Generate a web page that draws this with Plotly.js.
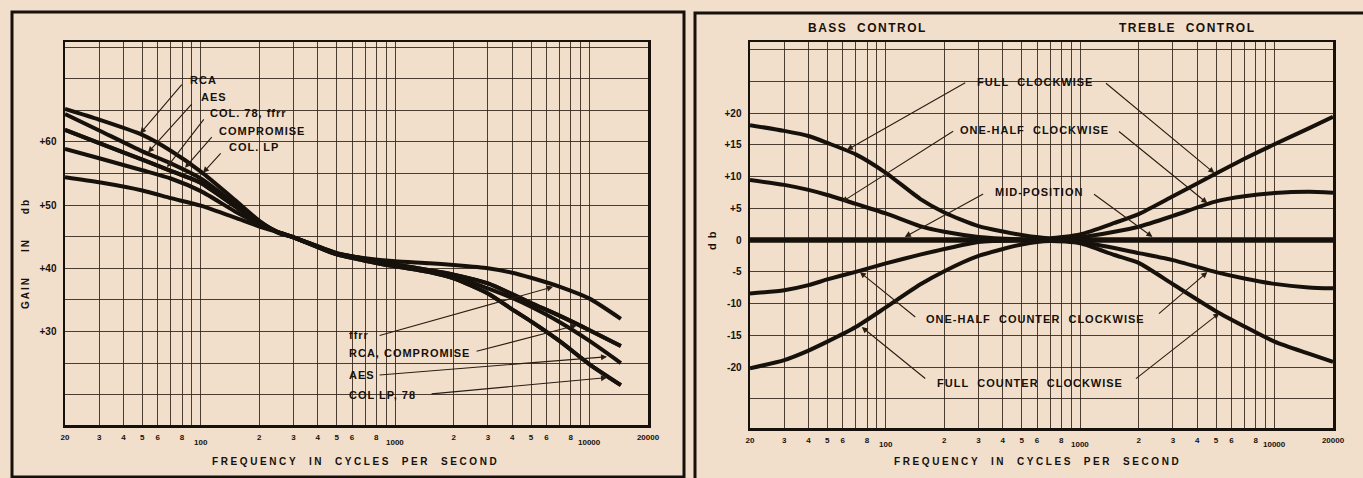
<!DOCTYPE html>
<html>
<head>
<meta charset="utf-8">
<script src="https://cdn.plot.ly/plotly-3.0.1.min.js"></script>
<style>html,body{margin:0;padding:0;background:#f1dfcb;}#chart{width:1363px;height:478px;}</style>
</head>
<body>
<div id="chart"></div>
<script>
// ---------- DATA ----------
// Left chart: recording characteristics (gain in db vs frequency)
const freqL  = [20, 30, 50, 70, 100, 150, 200, 250, 300, 500, 700, 1000, 1500, 2000, 3000, 4000, 5000, 7000, 10000, 14500];
const rcaL   = [65.2, 63.5, 61.1, 58.6, 55.3, 50.8, 47.5, 45.6, 44.9, 42.4, 41.5, 40.6, 39.7, 39.0, 37.6, 35.9, 34.5, 32.5, 30.2, 27.7];
const aesL   = [64.4, 61.8, 58.5, 56.6, 54.2, 50.2, 47.4, 45.7, 44.9, 42.3, 41.4, 40.5, 39.6, 38.8, 36.8, 35.3, 33.9, 31.5, 28.5, 25.0];
const col78L = [61.9, 59.8, 57.2, 55.4, 53.5, 49.8, 47.2, 45.7, 44.9, 42.2, 41.2, 40.3, 39.4, 38.4, 36.0, 33.5, 31.6, 28.5, 24.8, 21.5];
const ffrrL  = [61.9, 59.8, 57.2, 55.4, 53.5, 49.8, 47.2, 45.7, 44.9, 42.3, 41.6, 41.1, 40.8, 40.5, 40.0, 39.3, 38.5, 37.1, 35.2, 32.0];
const compL  = [58.9, 57.4, 55.5, 54.2, 52.2, 49.0, 47.0, 45.7, 44.9, 42.4, 41.5, 40.6, 39.7, 39.0, 37.6, 35.9, 34.5, 32.5, 30.2, 27.7];
const colLpL = [54.4, 53.6, 52.3, 51.1, 49.9, 48.0, 46.6, 45.7, 44.9, 42.2, 41.2, 40.3, 39.4, 38.4, 36.0, 33.5, 31.6, 28.5, 24.8, 21.5];

// Right chart: bass / treble control (db vs frequency)
const freqR    = [20, 30, 40, 50, 70, 100, 150, 200, 300, 500, 700, 1000, 1500, 2000, 3000, 5000, 7000, 10000, 15000, 20000];
const fullCW   = [18.1, 17.2, 16.4, 15.3, 13.5, 10.6, 6.5, 4.35, 2.2, 0.8, 0.3, 0.9, 2.7, 4.1, 6.9, 10.5, 12.8, 15.1, 17.6, 19.4];
const halfCW   = [9.45, 8.7, 7.9, 7.1, 5.7, 4.2, 2.2, 1.3, 0.5, 0.1, 0.0, 0.4, 1.3, 2.1, 3.8, 6.1, 6.9, 7.4, 7.6, 7.45];
const midPos   = [0, 0, 0, 0, 0, 0, 0, 0, 0, 0, 0, 0, 0, 0, 0, 0, 0, 0, 0, 0];
const halfCCW  = [-8.4, -7.9, -7.1, -6.2, -5.0, -3.67, -2.3, -1.4, -0.3, 0.0, 0.0, -0.3, -1.25, -2.05, -3.15, -5.05, -6.05, -6.9, -7.45, -7.6];
const fullCCW  = [-20.2, -18.9, -17.4, -16.0, -13.7, -10.6, -7.0, -4.9, -2.5, -0.7, -0.15, -0.5, -2.35, -3.6, -6.95, -11.2, -13.6, -16.0, -17.9, -19.2];

// Tick labels
const xTickVals = [20, 30, 40, 50, 60, 70, 80, 90, 100, 200, 300, 400, 500, 600, 700, 800, 900,
                   1000, 2000, 3000, 4000, 5000, 6000, 7000, 8000, 9000, 10000, 20000];
const xTickText = ['20', '3', '4', '5', '6', '', '8', '', '', '2', '3', '4', '5', '6', '', '8', '',
                   '', '2', '3', '4', '5', '6', '', '8', '', '', '20000'];
const decadeVals = [100, 1000, 10000];
const decadeText = ['100', '1000', '10000'];
const yTickValsL = [20, 25, 30, 35, 40, 45, 50, 55, 60, 65, 70, 75];
const yTickTextL = ['', '', '+30', '', '+40', '', '+50', '', '+60', '', '', ''];
const yTickValsR = [-25, -20, -15, -10, -5, 0, 5, 10, 15, 20, 25, 30];
const yTickTextR = ['', '-20', '-15', '-10', '-5', '0', '+5', '+10', '+15', '+20', '', ''];

// ---------- STYLE ----------
const INK = '#17110c';
const GRID = 'rgba(45,32,22,0.85)';
const PAPER = '#f1dfcb';
const FONT = 'Liberation Sans, Arial, sans-serif';
const W = 1363, H = 478;
const lg = Math.log10;

function curve(x, y, xa, ya, w) {
  return {x: x, y: y, xaxis: xa, yaxis: ya, type: 'scatter', mode: 'lines',
          line: {color: INK, width: w, shape: 'spline', smoothing: 0.6},
          hoverinfo: 'skip', showlegend: false};
}

const traces = [
  curve(freqL, rcaL, 'x', 'y', 4),
  curve(freqL, aesL, 'x', 'y', 4),
  curve(freqL, col78L, 'x', 'y', 4),
  curve(freqL, ffrrL, 'x', 'y', 4),
  curve(freqL, compL, 'x', 'y', 4),
  curve(freqL, colLpL, 'x', 'y', 4),
  curve(freqR, fullCW, 'x2', 'y2', 4),
  curve(freqR, halfCW, 'x2', 'y2', 4),
  curve(freqR, midPos, 'x2', 'y2', 5.5),
  curve(freqR, halfCCW, 'x2', 'y2', 4),
  curve(freqR, fullCCW, 'x2', 'y2', 4)
];

function xAxis(domain, anchor) {
  return {type: 'log', domain: domain, anchor: anchor, range: [lg(20), lg(20000)],
          tickmode: 'array', tickvals: xTickVals, ticktext: xTickText,
          showgrid: true, gridcolor: GRID, gridwidth: 1, zeroline: false,
          showline: true, mirror: true, linecolor: INK, linewidth: 2.5,
          ticks: '', ticklabelstandoff: 3,
          tickfont: {family: FONT, size: 8, color: INK, weight: 'bold'}, fixedrange: true};
}
function yAxis(domain, anchor, range, vals, text) {
  return {domain: domain, anchor: anchor, range: range,
          tickmode: 'array', tickvals: vals, ticktext: text,
          showgrid: true, gridcolor: GRID, gridwidth: 1, zeroline: false,
          showline: true, mirror: true, linecolor: INK, linewidth: 2.5,
          ticks: '', ticklabelstandoff: 4,
          tickfont: {family: FONT, size: 10, color: INK, weight: 'bold'}, fixedrange: true};
}

const shapes = [];
// heavier decade lines
decadeVals.forEach(v => {
  ['x', 'x2'].forEach(xa => {
    shapes.push({type: 'line', xref: xa, yref: (xa === 'x' ? 'y' : 'y2') + ' domain',
                 x0: lg(v), x1: lg(v), y0: 0, y1: 1, line: {color: INK, width: 2.5}, layer: 'below'});
  });
});
// panel frames
shapes.push({type: 'rect', xref: 'paper', yref: 'paper', x0: 12 / W, x1: 684 / W, y0: 1 / H, y1: 1 - 12 / H,
             line: {color: INK, width: 3}});
shapes.push({type: 'rect', xref: 'paper', yref: 'paper', x0: 695 / W, x1: 1.02, y0: -0.02, y1: 1 - 13 / H,
             line: {color: INK, width: 3}});

const annotations = [];
function label(xa, ya, f, d, text, anchor, size) {
  annotations.push({xref: xa, yref: ya, x: lg(f), y: d, text: text, showarrow: false,
                    xanchor: anchor || 'left', yanchor: 'middle',
                    font: {family: FONT, size: size || 11, color: INK, weight: 'bold'}});
}
function arrow(xa, ya, f0, d0, f1, d1) {
  annotations.push({xref: xa, yref: ya, axref: xa, ayref: ya, x: lg(f1), y: d1, ax: lg(f0), ay: d0,
                    text: '', showarrow: true, arrowhead: 2, arrowsize: 1.1, arrowwidth: 1.1,
                    arrowcolor: '#2a1d13', standoff: 0});
}
function paperText(x, y, text, size, angle) {
  annotations.push({xref: 'paper', yref: 'paper', x: x / W, y: 1 - y / H, text: text, showarrow: false,
                    xanchor: 'center', yanchor: 'middle', textangle: angle || 0,
                    font: {family: FONT, size: size, color: INK, weight: 'bold'}});
}
const sp = (t, s) => '<span style="letter-spacing:' + s + 'px">' + t + '</span>';

// left chart, upper labels
label('x', 'y', 86, 69.8, sp('RCA', 1)); arrow('x', 'y', 81, 69.3, 48.7, 61.3);
label('x', 'y', 97.5, 67.1, sp('AES', 1)); arrow('x', 'y', 91.2, 66.2, 53.5, 58.3);
label('x', 'y', 109.5, 64.6, sp('COL. 78, ffrr', 1)); arrow('x', 'y', 105, 63.8, 67, 56.0);
label('x', 'y', 121.5, 61.7, sp('COMPROMISE', 1)); arrow('x', 'y', 115.6, 61.0, 82.9, 55.9);
label('x', 'y', 137, 59.2, sp('COL. LP', 1)); arrow('x', 'y', 128.6, 58.4, 102.6, 55.1);
// left chart, lower labels
label('x', 'y', 565, 29.5, sp('ffrr', 1)); arrow('x', 'y', 817, 29.3, 6494, 37.06);
label('x', 'y', 565, 26.6, sp('RCA, COMPROMISE', 1)); arrow('x', 'y', 2577, 26.8, 8630, 31.0);
label('x', 'y', 565, 23.1, sp('AES', 1)); arrow('x', 'y', 817, 23.1, 12315, 26.0);
label('x', 'y', 565, 20.0, sp('COL LP, 78', 1)); arrow('x', 'y', 1512, 20.1, 12315, 22.7);

// right chart labels
label('x2', 'y2', 583, 24.9, sp('FULL\u00a0\u00a0CLOCKWISE', 1), 'center');
arrow('x2', 'y2', 260.7, 24.9, 63, 14.2); arrow('x2', 'y2', 1334, 24.9, 4903, 10.55);
label('x2', 'y2', 583, 17.3, sp('ONE-HALF\u00a0\u00a0CLOCKWISE', 1), 'center');
arrow('x2', 'y2', 226, 17.3, 59.4, 6.0); arrow('x2', 'y2', 1556, 17.3, 4514, 5.8);
label('x2', 'y2', 611, 7.56, sp('MID-POSITION', 1), 'center');
arrow('x2', 'y2', 322.6, 7.4, 125.2, 0.5); arrow('x2', 'y2', 1158, 7.4, 2355, 0.5);
label('x2', 'y2', 590, -12.4, sp('ONE-HALF\u00a0\u00a0COUNTER\u00a0\u00a0CLOCKWISE', 1), 'center');
arrow('x2', 'y2', 144.3, -12.3, 73.5, -5.04); arrow('x2', 'y2', 2498, -11.8, 4514, -5.04);
label('x2', 'y2', 550, -22.5, sp('FULL\u00a0\u00a0COUNTER\u00a0\u00a0CLOCKWISE', 1), 'center');
arrow('x2', 'y2', 162.4, -22.0, 75.2, -13.7); arrow('x2', 'y2', 1903, -22.0, 5202, -11.5);

// decade tick labels (set slightly lower, as on the original paper)
decadeVals.forEach((v, i) => {
  annotations.push({xref: 'x', yref: 'paper', x: lg(v), y: 1 - 442 / H, text: decadeText[i], showarrow: false,
                    xanchor: 'center', yanchor: 'middle', font: {family: FONT, size: 8, color: INK, weight: 'bold'}});
  annotations.push({xref: 'x2', yref: 'paper', x: lg(v), y: 1 - 444 / H, text: decadeText[i], showarrow: false,
                    xanchor: 'center', yanchor: 'middle', font: {family: FONT, size: 8, color: INK, weight: 'bold'}});
});

// titles
paperText(355, 461, sp('FREQUENCY\u00a0\u00a0IN\u00a0\u00a0CYCLES\u00a0\u00a0PER\u00a0\u00a0SECOND', 2.6), 10);
paperText(1037, 461, sp('FREQUENCY\u00a0\u00a0IN\u00a0\u00a0CYCLES\u00a0\u00a0PER\u00a0\u00a0SECOND', 2.6), 10);
paperText(25, 254, sp('GAIN\u00a0\u00a0\u00a0\u00a0\u00a0IN\u00a0\u00a0\u00a0\u00a0\u00a0db', 2), 10, -90);
paperText(712, 240, sp('d\u00a0b', 1), 11, -90);
paperText(867, 28, sp('BASS\u00a0\u00a0CONTROL', 1.5), 12);
paperText(1187, 28, sp('TREBLE\u00a0\u00a0CONTROL', 1.5), 12);

const layout = {
  width: W, height: H,
  margin: {l: 0, r: 0, t: 0, b: 0},
  paper_bgcolor: PAPER, plot_bgcolor: PAPER,
  font: {family: FONT, color: INK},
  showlegend: false,
  xaxis: xAxis([65 / W, 648 / W], 'y'),
  yaxis: yAxis([1 - 425 / H, 1 - 42 / H], 'x', [15.2, 75.8], yTickValsL, yTickTextL),
  xaxis2: xAxis([750 / W, 1333 / W], 'y2'),
  yaxis2: yAxis([1 - 428 / H, 1 - 42 / H], 'x2', [-29.6, 31.2], yTickValsR, yTickTextR),
  shapes: shapes,
  annotations: annotations
};

Plotly.newPlot('chart', traces, layout, {displayModeBar: false, staticPlot: true});
</script>
</body>
</html>
